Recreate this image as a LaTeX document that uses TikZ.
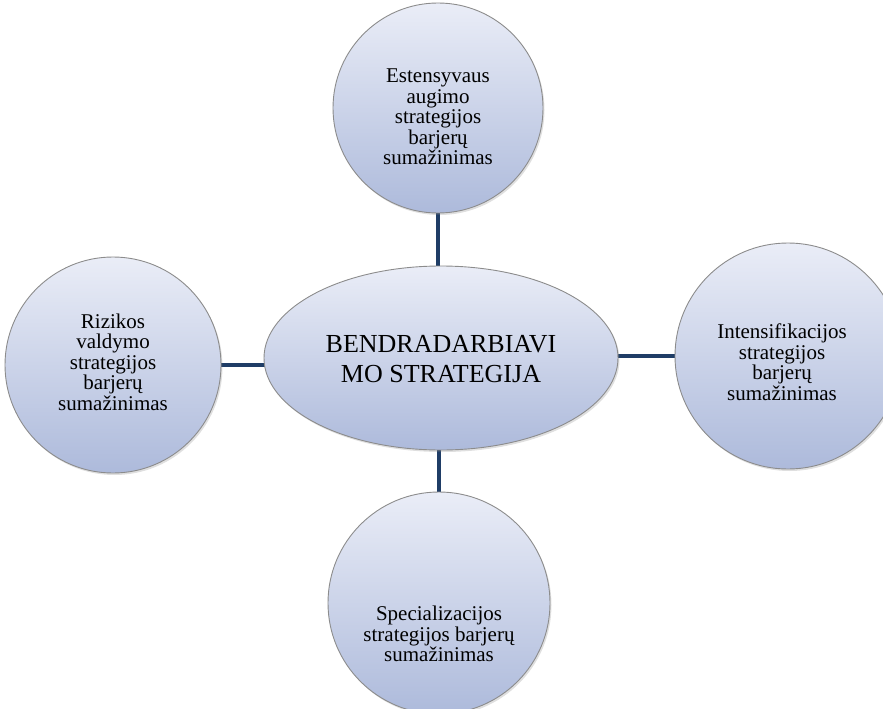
\documentclass[tikz,border=0pt]{standalone}
\usepackage{fontspec}
\setmainfont{Liberation Serif}
\usetikzlibrary{shapes.geometric,shadows,backgrounds}
\definecolor{conncol}{HTML}{1F3D66}
\definecolor{filltop}{HTML}{EAEDF7}
\definecolor{fillbot}{HTML}{ADBADB}
\definecolor{edgecol}{HTML}{8C8C8C}
\tikzset{
  bub/.style={circle, draw=edgecol, line width=0.9pt, top color=filltop, bottom color=fillbot,
    inner sep=0pt, drop shadow={opacity=0.25, shadow xshift=1.5pt, shadow yshift=-2pt}},
  hub/.style={ellipse, draw=edgecol, line width=0.9pt, top color=filltop, bottom color=fillbot,
    inner sep=0pt, minimum width=354pt, minimum height=184pt,
    drop shadow={opacity=0.25, shadow xshift=1.5pt, shadow yshift=-2pt}},
  smalltxt/.style={align=center, font=\fontsize{21}{20.5}\selectfont, inner sep=0pt},
  bigtxt/.style={align=center, font=\fontsize{26}{30}\selectfont, inner sep=0pt},
  conn/.style={draw=conncol, line width=4pt}
}
\begin{document}
\begin{tikzpicture}[x=1pt,y=-1pt]
\useasboundingbox (0,0) rectangle (883,709);
\node[hub] (hub) at (441,358) {};
\node[bub, minimum size=210pt] (top) at (438,108) {};
\node[bub, minimum size=216pt] (left) at (113,365) {};
\node[bub, minimum size=226pt] (right) at (788,356) {};
\node[bub, minimum size=222pt] (bottom) at (439,603) {};
\begin{scope}[on background layer]
\draw[conn] (top.center) -- (top.center |- hub.center);
\draw[conn] (bottom.center) -- (bottom.center |- hub.center);
\draw[conn] (left.center) -- (left.center -| hub.center);
\draw[conn] (right.center) -- (right.center -| hub.center);
\end{scope}
\node[bigtxt] (thub) at (441,359) {BENDRADARBIAVI\\MO STRATEGIJA};
\node[smalltxt] (ttop) at (438,117) {Estensyvaus\\augimo\\strategijos\\barjerų\\sumažinimas};
\node[smalltxt] (tleft) at (113,362) {Rizikos\\valdymo\\strategijos\\barjerų\\sumažinimas};
\node[smalltxt] (tright) at (782,362) {Intensifikacijos\\strategijos\\barjerų\\sumažinimas};
\node[smalltxt] (tbottom) at (439,634) {Specializacijos\\strategijos barjerų\\sumažinimas};
\end{tikzpicture}
\end{document}
